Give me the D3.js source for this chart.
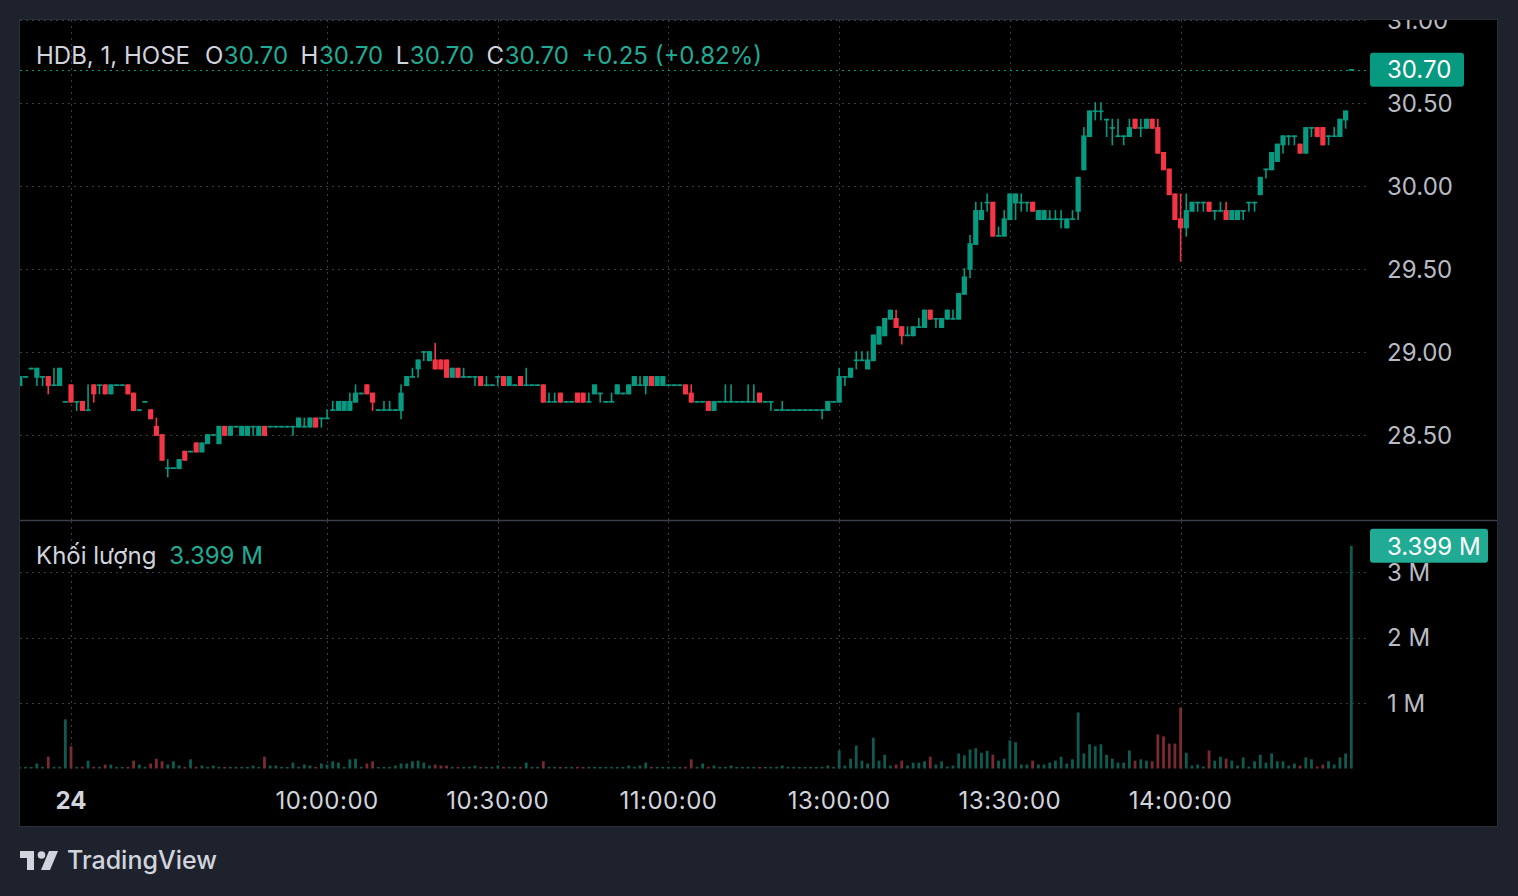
<!DOCTYPE html>
<html><head><meta charset="utf-8">
<script src="https://cdn.jsdelivr.net/npm/d3@7"></script>
<style>html,body{margin:0;padding:0;background:#1e222d;}svg{display:block;font-family:Inter,"Noto Sans",sans-serif;}</style>
</head><body><svg id="c" width="1518" height="896"></svg>
<script>
// ---------- DATA (HDB, 1 minute bars, 09:06 .. 14:30) ----------
const sessions = [["09:06", "11:29"], ["13:00", "14:30"]];
const open = [
28.80,28.85,28.90,28.85,28.85,28.85,28.80,28.80,28.70,28.80,
28.70,28.70,28.65,28.80,28.80,28.80,28.75,28.80,28.80,28.80,
28.75,28.65,28.70,28.65,28.55,28.50,28.30,28.30,28.30,28.40,
28.40,28.45,28.40,28.45,28.50,28.45,28.55,28.50,28.55,28.50,
28.50,28.55,28.50,28.55,28.55,28.55,28.55,28.55,28.55,28.55,
28.55,28.55,28.60,28.60,28.60,28.65,28.65,28.65,28.65,28.70,
28.75,28.80,28.75,28.65,28.65,28.65,28.65,28.65,28.80,28.85,
28.90,29.00,28.95,28.95,28.95,28.95,28.85,28.90,28.85,28.85,
28.85,28.85,28.80,28.80,28.85,28.85,28.80,28.80,28.85,28.80,
28.80,28.80,28.80,28.70,28.70,28.75,28.70,28.70,28.75,28.75,
28.70,28.75,28.75,28.70,28.70,28.75,28.75,28.75,28.80,28.80,
28.80,28.85,28.80,28.80,28.80,28.80,28.80,28.80,28.75,28.70,
28.70,28.70,28.65,28.70,28.70,28.70,28.70,28.70,28.70,28.70,
28.75,28.70,28.70,28.65,28.65,28.65,28.65,28.65,28.65,28.65,
28.65,28.65,28.65,28.70,28.70,28.85,28.85,28.95,28.95,28.90,
28.95,29.05,29.10,29.20,29.20,29.15,29.10,29.10,29.15,29.15,
29.25,29.20,29.15,29.20,29.20,29.20,29.35,29.50,29.65,29.80,
29.90,29.90,29.70,29.70,29.80,29.90,29.90,29.90,29.90,29.80,
29.80,29.80,29.80,29.80,29.75,29.80,29.85,30.10,30.30,30.45,
30.45,30.40,30.35,30.30,30.30,30.30,30.40,30.35,30.35,30.40,
30.35,30.20,30.10,29.95,29.80,29.75,29.85,29.90,29.90,29.90,
29.85,29.85,29.85,29.80,29.80,29.85,29.90,29.90,29.95,30.10,
30.10,30.15,30.25,30.30,30.30,30.25,30.20,30.35,30.35,30.35,
30.30,30.30,30.30,30.40,30.70];
const high = [
28.85,28.85,28.90,28.90,28.85,28.85,28.90,28.90,28.70,28.80,
28.70,28.70,28.80,28.80,28.80,28.80,28.80,28.80,28.80,28.80,
28.75,28.65,28.70,28.65,28.60,28.50,28.35,28.30,28.35,28.40,
28.40,28.45,28.45,28.50,28.50,28.55,28.55,28.55,28.55,28.55,
28.55,28.55,28.55,28.55,28.55,28.55,28.55,28.55,28.55,28.60,
28.60,28.60,28.60,28.60,28.65,28.70,28.70,28.70,28.75,28.80,
28.75,28.80,28.75,28.65,28.70,28.70,28.65,28.80,28.85,28.90,
28.95,29.00,29.00,29.05,28.95,28.95,28.90,28.90,28.90,28.85,
28.85,28.85,28.85,28.80,28.85,28.85,28.85,28.80,28.85,28.90,
28.80,28.80,28.80,28.75,28.75,28.75,28.70,28.70,28.75,28.75,
28.75,28.80,28.75,28.70,28.75,28.80,28.75,28.80,28.85,28.85,
28.85,28.85,28.85,28.85,28.80,28.80,28.80,28.80,28.80,28.70,
28.70,28.70,28.70,28.70,28.80,28.80,28.70,28.70,28.80,28.80,
28.75,28.70,28.70,28.65,28.70,28.65,28.65,28.65,28.65,28.65,
28.65,28.65,28.70,28.70,28.90,28.85,28.90,29.00,29.00,29.00,
29.10,29.15,29.20,29.25,29.25,29.15,29.15,29.15,29.20,29.25,
29.25,29.20,29.20,29.25,29.25,29.35,29.50,29.70,29.90,29.90,
29.95,29.90,29.75,29.85,29.95,29.95,29.95,29.90,29.90,29.85,
29.85,29.85,29.85,29.85,29.80,29.85,30.05,30.35,30.45,30.50,
30.50,30.40,30.40,30.40,30.30,30.40,30.40,30.40,30.40,30.40,
30.40,30.20,30.10,29.95,29.95,29.95,29.90,29.90,29.90,29.90,
29.85,29.90,29.90,29.85,29.85,29.85,29.90,29.90,30.05,30.10,
30.20,30.25,30.30,30.30,30.30,30.25,30.35,30.35,30.35,30.35,
30.30,30.35,30.40,30.45,30.70];
const low = [
28.80,28.85,28.90,28.80,28.80,28.75,28.80,28.80,28.70,28.70,
28.65,28.65,28.65,28.70,28.75,28.75,28.75,28.80,28.80,28.75,
28.65,28.65,28.70,28.60,28.50,28.35,28.25,28.30,28.30,28.35,
28.40,28.40,28.40,28.45,28.50,28.45,28.50,28.50,28.55,28.50,
28.50,28.50,28.50,28.50,28.55,28.55,28.55,28.55,28.50,28.55,
28.55,28.55,28.55,28.55,28.60,28.65,28.65,28.65,28.65,28.70,
28.75,28.75,28.65,28.65,28.65,28.65,28.65,28.60,28.80,28.85,
28.85,28.95,28.95,28.90,28.90,28.85,28.85,28.85,28.85,28.85,
28.80,28.80,28.80,28.80,28.80,28.80,28.80,28.80,28.80,28.80,
28.80,28.80,28.70,28.70,28.70,28.70,28.70,28.70,28.70,28.70,
28.70,28.75,28.70,28.70,28.70,28.75,28.75,28.75,28.80,28.80,
28.75,28.80,28.80,28.80,28.80,28.80,28.80,28.75,28.70,28.70,
28.70,28.65,28.65,28.70,28.70,28.70,28.70,28.70,28.70,28.70,
28.70,28.70,28.65,28.65,28.65,28.65,28.65,28.65,28.65,28.65,
28.65,28.60,28.65,28.70,28.70,28.80,28.85,28.90,28.95,28.90,
28.95,29.05,29.10,29.20,29.15,29.05,29.10,29.10,29.15,29.15,
29.20,29.15,29.15,29.20,29.20,29.20,29.35,29.45,29.65,29.80,
29.85,29.70,29.70,29.70,29.80,29.80,29.85,29.85,29.85,29.80,
29.80,29.80,29.80,29.75,29.75,29.80,29.80,30.10,30.30,30.40,
30.40,30.30,30.25,30.30,30.25,30.30,30.35,30.30,30.35,30.35,
30.20,30.10,29.95,29.80,29.55,29.70,29.85,29.85,29.85,29.85,
29.80,29.85,29.80,29.80,29.80,29.80,29.85,29.85,29.95,30.05,
30.10,30.15,30.20,30.25,30.25,30.20,30.20,30.30,30.30,30.25,
30.25,30.30,30.30,30.35,30.70];
const close = [
28.85,28.85,28.90,28.90,28.85,28.80,28.80,28.90,28.70,28.70,
28.70,28.65,28.65,28.75,28.80,28.75,28.80,28.80,28.80,28.75,
28.65,28.65,28.70,28.60,28.50,28.35,28.30,28.30,28.35,28.35,
28.40,28.40,28.45,28.50,28.50,28.55,28.50,28.55,28.55,28.55,
28.55,28.55,28.55,28.50,28.55,28.55,28.55,28.55,28.55,28.60,
28.55,28.60,28.55,28.60,28.60,28.65,28.70,28.70,28.70,28.75,
28.75,28.75,28.70,28.65,28.65,28.65,28.65,28.75,28.85,28.85,
28.95,29.00,29.00,28.90,28.90,28.85,28.90,28.85,28.85,28.85,
28.85,28.80,28.80,28.80,28.85,28.80,28.85,28.80,28.80,28.80,
28.80,28.80,28.70,28.70,28.70,28.70,28.70,28.70,28.70,28.70,
28.70,28.80,28.75,28.70,28.70,28.80,28.75,28.80,28.85,28.80,
28.85,28.80,28.85,28.85,28.80,28.80,28.80,28.75,28.70,28.70,
28.70,28.65,28.70,28.70,28.70,28.70,28.70,28.70,28.70,28.70,
28.70,28.70,28.70,28.65,28.65,28.65,28.65,28.65,28.65,28.65,
28.65,28.65,28.70,28.70,28.85,28.85,28.90,28.95,28.95,28.95,
29.10,29.15,29.20,29.25,29.15,29.10,29.10,29.15,29.15,29.25,
29.20,29.20,29.20,29.25,29.20,29.35,29.45,29.65,29.85,29.85,
29.90,29.70,29.70,29.80,29.95,29.95,29.90,29.90,29.85,29.85,
29.85,29.80,29.80,29.80,29.80,29.80,30.05,30.30,30.45,30.45,
30.45,30.40,30.35,30.30,30.30,30.35,30.35,30.35,30.40,30.35,
30.20,30.10,29.95,29.80,29.75,29.85,29.90,29.90,29.90,29.85,
29.85,29.85,29.80,29.85,29.85,29.85,29.90,29.90,30.05,30.10,
30.20,30.25,30.30,30.30,30.30,30.20,30.35,30.35,30.30,30.25,
30.30,30.30,30.40,30.45,30.70];
// volume in millions
const volume = [
0.02,0.025,0.025,0.076,0.025,0.18,0.025,0.025,0.75,0.34,
0.025,0.025,0.12,0.025,0.025,0.06,0.06,0.025,0.025,0.025,
0.12,0.06,0.025,0.076,0.15,0.11,0.06,0.11,0.045,0.025,
0.14,0.025,0.045,0.025,0.045,0.025,0.025,0.025,0.025,0.025,
0.025,0.045,0.025,0.18,0.045,0.045,0.025,0.025,0.09,0.025,
0.06,0.045,0.025,0.076,0.06,0.11,0.09,0.025,0.14,0.15,
0.025,0.076,0.11,0.025,0.025,0.025,0.045,0.076,0.076,0.11,
0.12,0.09,0.045,0.06,0.045,0.045,0.025,0.025,0.025,0.025,
0.045,0.025,0.025,0.025,0.045,0.025,0.025,0.025,0.025,0.09,
0.025,0.025,0.11,0.025,0.025,0.025,0.025,0.025,0.025,0.025,
0.025,0.025,0.025,0.025,0.025,0.025,0.025,0.045,0.025,0.045,
0.09,0.025,0.025,0.025,0.025,0.025,0.025,0.025,0.14,0.025,
0.076,0.025,0.045,0.025,0.025,0.045,0.025,0.025,0.025,0.025,
0.025,0.025,0.025,0.025,0.045,0.025,0.025,0.025,0.025,0.025,
0.025,0.025,0.045,0.025,0.275,0.045,0.15,0.35,0.12,0.076,
0.47,0.12,0.21,0.045,0.06,0.12,0.045,0.09,0.09,0.11,
0.18,0.06,0.11,0.03,0.045,0.23,0.2,0.29,0.31,0.24,
0.27,0.21,0.12,0.15,0.43,0.4,0.06,0.06,0.12,0.06,
0.06,0.09,0.12,0.18,0.076,0.14,0.855,0.23,0.37,0.34,
0.37,0.21,0.15,0.09,0.09,0.275,0.12,0.14,0.12,0.11,
0.52,0.49,0.38,0.38,0.93,0.24,0.045,0.06,0.03,0.275,
0.12,0.18,0.15,0.12,0.045,0.17,0.03,0.11,0.21,0.09,
0.23,0.11,0.11,0.045,0.076,0.045,0.17,0.14,0.03,0.06,
0.11,0.06,0.17,0.23,3.399];
const priceTicks = [28.5, 29.0, 29.5, 30.0, 30.5, 31.0];
const priceTickLabels = ["28.50", "29.00", "29.50", "30.00", "30.50", "31.00"];
const volTicks = [1, 2, 3];
const volTickLabels = ["1 M", "2 M", "3 M"];
const timeTicks = ["09:15", "10:00", "10:30", "11:00", "13:00", "13:30", "14:00"];
const timeTickLabels = ["24", "10:00:00", "10:30:00", "11:00:00", "13:00:00", "13:30:00", "14:00:00"];
const lastPrice = 30.70, lastVolumeLabel = "3.399 M";
const legend = {symbol: "HDB, 1, HOSE", o: "30.70", h: "30.70", l: "30.70", c: "30.70", chg: "+0.25 (+0.82%)"};

// ---------- BUILD CATEGORIES ----------
function toMin(s){const [h,m]=s.split(":").map(Number);return h*60+m;}
function fmt(m){return String(Math.floor(m/60)).padStart(2,"0")+":"+String(m%60).padStart(2,"0");}
const times = [];
sessions.forEach(([a,b]) => { for (let m = toMin(a); m <= toMin(b); m++) times.push(fmt(m)); });
const bars = times.map((t,i) => ({t, o: open[i], h: high[i], l: low[i], c: close[i], v: volume[i]}));

// ---------- LAYOUT ----------
const UP = "#089981", DOWN = "#f23645", UPV = "#115a4f", DOWNV = "#7a2a31";
const plotL = 20, plotR = 1366, paneTop = 20, sep = 520, volBot = 770;
const svg = d3.select("#c");
svg.append("rect").attr("width",1518).attr("height",896).attr("fill","#1e222d");
svg.append("rect").attr("x",19.5).attr("y",19.5).attr("width",1478).attr("height",807)
  .attr("fill","#000").attr("stroke","#2a2e39");

const x = d3.scalePoint().domain(times).range([19.8, 1351.3]);
const y = d3.scaleLinear().domain([28, 31]).range([518, 20]);
const yv = d3.scaleLinear().domain([0, 3]).range([768.5, 572]);

const defs = svg.append("defs");
defs.append("clipPath").attr("id","cp").append("rect").attr("x",plotL).attr("y",paneTop).attr("width",plotR-plotL).attr("height",sep-paneTop);
defs.append("clipPath").attr("id","cv").append("rect").attr("x",plotL).attr("y",sep+1).attr("width",plotR-plotL).attr("height",volBot-sep-1);
defs.append("clipPath").attr("id","ca").append("rect").attr("x",plotR).attr("y",paneTop).attr("width",1497-plotR).attr("height",sep-paneTop);

const grid = svg.append("g").attr("stroke","#383c47").attr("stroke-width",1).attr("stroke-dasharray","2,4");
priceTicks.forEach(p => grid.append("line").attr("x1",plotL).attr("x2",plotR).attr("y1",Math.round(y(p))+0.5).attr("y2",Math.round(y(p))+0.5));
volTicks.forEach(v => grid.append("line").attr("x1",plotL).attr("x2",plotR).attr("y1",Math.round(yv(v))+0.5).attr("y2",Math.round(yv(v))+0.5));
timeTicks.forEach(t => {
  const xx = Math.round(x(t))+0.5;
  grid.append("line").attr("x1",xx).attr("x2",xx).attr("y1",paneTop).attr("y2",sep);
  grid.append("line").attr("x1",xx).attr("x2",xx).attr("y1",sep+1).attr("y2",volBot);
});

// price line
svg.append("line").attr("x1",plotL).attr("x2",plotR).attr("y1",Math.round(y(lastPrice))+0.5).attr("y2",Math.round(y(lastPrice))+0.5)
  .attr("stroke",UP).attr("stroke-width",1).attr("stroke-dasharray","2,4");

// candles
const bw = 5.2, ww = 1.6, minH = 1.7;
const cg = svg.append("g").attr("clip-path","url(#cp)");
const cs = cg.selectAll("g").data(bars).join("g").attr("fill", d => d.c >= d.o ? UP : DOWN);
cs.append("rect").attr("x", d => x(d.t) - ww/2).attr("width", ww)
  .attr("y", d => y(d.h) - 0.8).attr("height", d => y(d.l) - y(d.h) + 1.6);
cs.append("rect").attr("x", d => x(d.t) - bw/2).attr("width", bw)
  .attr("y", d => y(Math.max(d.o,d.c)) - 0.85)
  .attr("height", d => Math.max(minH, y(Math.min(d.o,d.c)) - y(Math.max(d.o,d.c)) + 1.7));

// volume
const vg = svg.append("g").attr("clip-path","url(#cv)");
vg.selectAll("rect").data(bars).join("rect")
  .attr("x", d => x(d.t) - 1.4).attr("width", 2.8)
  .attr("y", d => yv(d.v)).attr("height", d => yv(0) - yv(d.v))
  .attr("fill", d => d.c >= d.o ? UPV : DOWNV);

// separator
svg.append("line").attr("x1",20).attr("x2",1497).attr("y1",520.5).attr("y2",520.5).attr("stroke","#3a3e48").attr("stroke-width",1.3);

// axes text
const FS = 24;
const ax = svg.append("g").attr("font-size",FS).attr("fill","#b8bbc3");
const pa = ax.append("g").attr("clip-path","url(#ca)");
priceTicks.forEach((p,i) => pa.append("text").attr("x",1387).attr("y",y(p)).attr("dy","0.36em").text(priceTickLabels[i]));
volTicks.forEach((v,i) => ax.append("text").attr("x",1387).attr("y",yv(v)).attr("dy","0.36em").text(volTickLabels[i]));
timeTicks.forEach((t,i) => svg.append("text").attr("x",x(t)).attr("y",800).attr("dy","0.36em")
  .attr("text-anchor","middle").attr("font-size",FS).attr("fill","#d1d4dc").attr("letter-spacing", i === 0 ? 0 : 0.5)
  .attr("font-weight", i === 0 ? 700 : 400).text(timeTickLabels[i]));

// last price / volume boxes
svg.append("rect").attr("x",1370).attr("y",y(lastPrice)-17).attr("width",94).attr("height",34).attr("rx",3).attr("fill",UP);
svg.append("text").attr("x",1387).attr("y",y(lastPrice)).attr("dy","0.36em").attr("font-size",FS).attr("fill","#fff").text(lastPrice.toFixed(2));
const lastV = volume[volume.length-1];
svg.append("rect").attr("x",1370).attr("y",yv(lastV)-17).attr("width",118).attr("height",34).attr("rx",3).attr("fill","#22ab94");
svg.append("text").attr("x",1387).attr("y",yv(lastV)).attr("dy","0.36em").attr("font-size",FS).attr("fill","#fff").text(lastVolumeLabel);

// legend
function row(pieces, x0, yb){
  let cx = x0;
  pieces.forEach(p => {
    const t = svg.append("text").attr("x",cx).attr("y",yb).attr("font-size",FS).attr("fill",p.c).text(p.t);
    cx += t.node().getComputedTextLength() + p.g;
  });
}
const G = "#d1d4dc", T = "#22ab94";
row([{t:legend.symbol,c:G,g:15},{t:"O",c:G,g:0.5},{t:legend.o,c:T,g:12.5},{t:"H",c:G,g:0.5},{t:legend.h,c:T,g:12.5},
     {t:"L",c:G,g:0.5},{t:legend.l,c:T,g:12.5},{t:"C",c:G,g:0.5},{t:legend.c,c:T,g:12.5},{t:legend.chg,c:T,g:0}], 36, 64);
row([{t:"Khối lượng",c:G,g:13},{t:lastVolumeLabel,c:T,g:0}], 36, 564);

// TradingView logo
const lg = svg.append("g").attr("fill","#d1d4dc");
lg.append("path").attr("d","M20,851 H34 V870 H27 V858 H20 Z");
lg.append("circle").attr("cx",41.5).attr("cy",855).attr("r",3.8);
lg.append("path").attr("d","M49,851 H58 L50,870 H41 Z");
svg.append("text").attr("x",67).attr("y",869).attr("font-size",25).attr("font-weight",500).attr("fill","#d1d4dc").text("TradingView");
</script></body></html>
